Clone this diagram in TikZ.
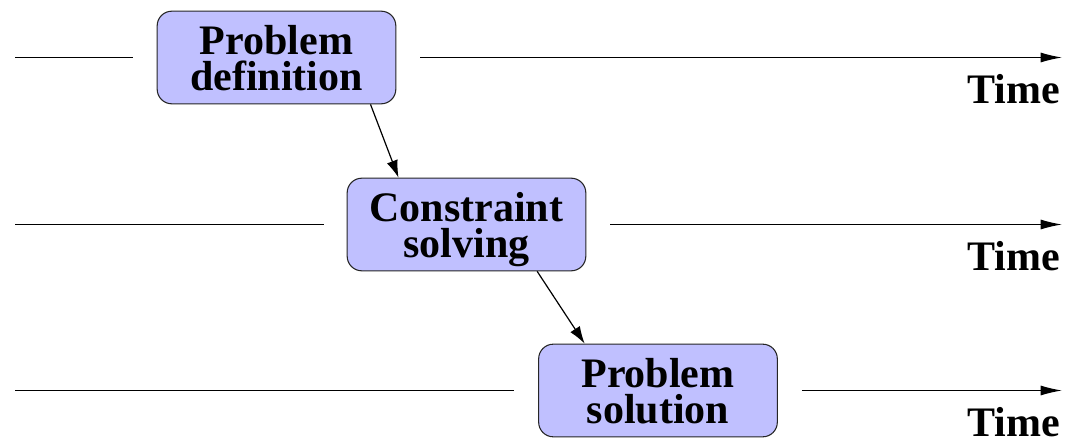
\documentclass[tikz,border=0pt]{standalone}
\usepackage{fontspec}
\setmainfont{Liberation Serif}
\usetikzlibrary{arrows.meta}
\begin{document}
\begin{tikzpicture}[x=0.75pt,y=-0.75pt,
  stage/.style={draw=black!85, line width=0.8pt, fill=stagefill, rounded corners=11pt,
    minimum width=179pt, minimum height=69.5pt, inner sep=0pt, align=center,
    text depth=-5.6pt,
    font=\fontsize{31.5}{27}\selectfont\bfseries},
  timeline/.style={line width=0.9pt, -{Latex[length=16pt,width=7.5pt]}},
  flow/.style={line width=0.9pt, -{Latex[length=13pt,width=8.5pt]}},
  plain/.style={line width=0.9pt},
  timelabel/.style={anchor=base east, inner sep=0pt, font=\fontsize{31.5}{34}\selectfont\bfseries}]
\definecolor{stagefill}{RGB}{192,192,255}
\useasboundingbox (0,0) rectangle (1068,442);

% the three stages
\node[stage] (def) at (276.5,57.5) {Problem\\definition};
\node[stage] (solve) at (466.5,224.5) {Constraint\\solving};
\node[stage] (sol) at (658,390.5) {Problem\\solution};

% free ends of the time lines
\coordinate (s1) at (15,57.5);
\coordinate (s2) at (15,224.5);
\coordinate (s3) at (15,390.5);
\coordinate (e1) at (1062,57.5);
\coordinate (e2) at (1062,224.5);
\coordinate (e3) at (1062,390.5);

% time lines, interrupted around each stage
\draw[plain] (s1) -- ([xshift=-18pt]def.west);
\draw[timeline] ([xshift=18pt]def.east) -- (e1);
\draw[plain] (s2) -- ([xshift=-17pt]solve.west);
\draw[timeline] ([xshift=18pt]solve.east) -- (e2);
\draw[plain] (s3) -- ([xshift=-18pt]sol.west);
\draw[timeline] ([xshift=18pt]sol.east) -- (e3);

% time labels
\node[timelabel] (t1) at (1060,104) {Time};
\node[timelabel] (t2) at (1060,271) {Time};
\node[timelabel] (t3) at (1060,436.5) {Time};

% hand-over between stages
\draw[flow] ([xshift=70.5pt]def.south) -- ([xshift=-51pt]solve.north);
\draw[flow] ([xshift=53pt]solve.south) -- ([xshift=-55pt]sol.north);
\end{tikzpicture}
\end{document}
